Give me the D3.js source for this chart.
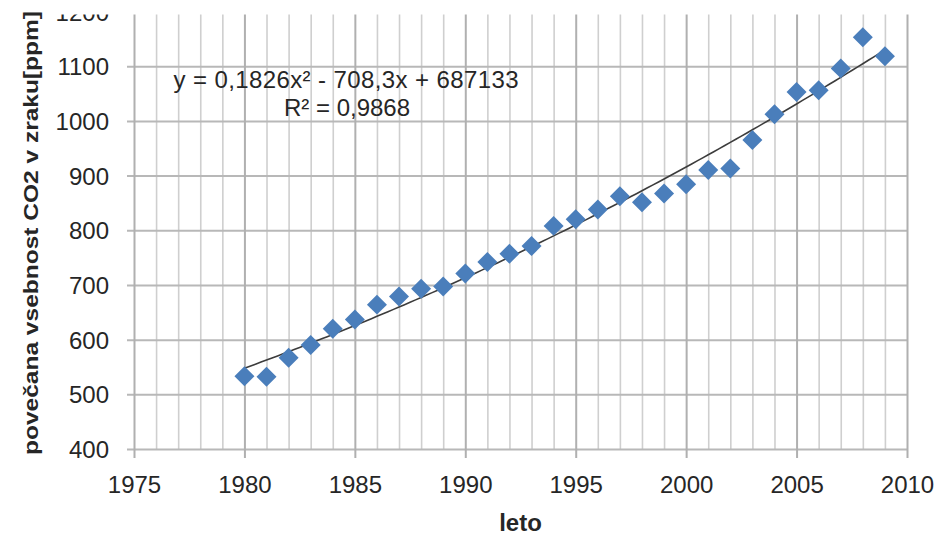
<!DOCTYPE html>
<html>
<head>
<meta charset="utf-8">
<script src="https://cdn.jsdelivr.net/npm/d3@7"></script>
<style>
  html, body { margin: 0; padding: 0; background: #fff; }
  svg { display: block; }
  text { font-family: "Liberation Sans", Arial, sans-serif; fill: #262626; }
</style>
</head>
<body>
<svg id="chart" width="941" height="536"></svg>
<script>
// ---- data ----
const years = [1980,1981,1982,1983,1984,1985,1986,1987,1988,1989,1990,1991,1992,1993,1994,1995,1996,1997,1998,1999,2000,2001,2002,2003,2004,2005,2006,2007,2008,2009];
const co2 = [533,532,567,590,620,637,664,679,693,697,721,742,757,771,808,820,838,862,851,867,884,910,913,965,1012,1053,1056,1096,1153,1118];
const xTickValues = [1975,1980,1985,1990,1995,2000,2005,2010];
const yTickValues = [400,500,600,700,800,900,1000,1100,1200];
const xTitle = "leto";
const yTitle = "povečana vsebnost CO2 v zraku[ppm]";
const eqText = "y = 0,1826x² - 708,3x + 687133";
const r2Text = "R² = 0,9868";

// ---- layout ----
const svg = d3.select("#chart");
const x = d3.scaleLinear().domain([1975, 2010]).range([134, 907]);
const y = d3.scaleLinear().domain([400, 1200]).range([449, 11.5]);

// minor vertical gridlines (every year)
const minorYears = d3.range(1975, 2011);
svg.append("g")
  .attr("transform", `translate(0,${y(400)})`)
  .call(d3.axisBottom(x).tickValues(minorYears.filter(v => v % 5 !== 0)).tickFormat("").tickSize(-(y(400) - y(1200))).tickSizeOuter(0))
  .call(g => g.select(".domain").remove())
  .call(g => g.selectAll("line").attr("stroke", "#cfcfcf").attr("stroke-width", 1.6));

// horizontal gridlines
svg.append("g")
  .attr("transform", `translate(${x(1975)},0)`)
  .call(d3.axisLeft(y).tickValues(yTickValues).tickSize(-(x(2010) - x(1975))).tickSizeOuter(0).tickPadding(0).tickFormat(""))
  .call(g => g.select(".domain").remove())
  .call(g => g.selectAll("line").attr("x1", -7).attr("stroke", "#b8b8b8").attr("stroke-width", 2));

// major vertical gridlines (every 5 years) with ticks below
svg.append("g")
  .attr("transform", `translate(0,${y(400)})`)
  .call(d3.axisBottom(x).tickValues(xTickValues).tickFormat("").tickSize(-(y(400) - y(1200))).tickSizeOuter(0))
  .call(g => g.select(".domain").remove())
  .call(g => g.selectAll("line").attr("y2", 9).attr("y1", -(y(400) - y(1200))).attr("stroke", "#b0b0b0").attr("stroke-width", 2));

// x tick labels
svg.append("g")
  .attr("transform", `translate(0,${y(400)})`)
  .call(d3.axisBottom(x).tickValues(xTickValues).tickFormat(d3.format("d")).tickSize(0).tickPadding(0))
  .call(g => g.select(".domain").remove())
  .call(g => g.selectAll("text").attr("y", 0).attr("dy", "44").style("font-size", "24px").attr("fill", "#262626"));

// y tick labels
svg.append("g")
  .attr("transform", `translate(${x(1975)},0)`)
  .call(d3.axisLeft(y).tickValues(yTickValues).tickFormat(d3.format("d")).tickSize(0).tickPadding(0))
  .call(g => g.select(".domain").remove())
  .call(g => g.selectAll("text").attr("x", -25).attr("dy", "0.36em").style("font-size", "24px").attr("fill", "#262626"));

// ---- quadratic least-squares trend line ----
function quadFit(xs, ys) {
  const x0 = d3.mean(xs);
  let S = [0,0,0,0,0], T = [0,0,0];
  xs.forEach((xv, i) => {
    const t = xv - x0;
    for (let k = 0; k < 5; k++) S[k] += Math.pow(t, k);
    for (let k = 0; k < 3; k++) T[k] += ys[i] * Math.pow(t, k);
  });
  const A = [[S[0],S[1],S[2],T[0]],[S[1],S[2],S[3],T[1]],[S[2],S[3],S[4],T[2]]];
  for (let i = 0; i < 3; i++) {
    for (let j = i + 1; j < 3; j++) {
      const f = A[j][i] / A[i][i];
      for (let k = i; k < 4; k++) A[j][k] -= f * A[i][k];
    }
  }
  const c = [0,0,0];
  for (let i = 2; i >= 0; i--) {
    let s = A[i][3];
    for (let k = i + 1; k < 3; k++) s -= A[i][k] * c[k];
    c[i] = s / A[i][i];
  }
  return xv => c[0] + c[1] * (xv - x0) + c[2] * (xv - x0) * (xv - x0);
}
const fit = quadFit(years, co2);
const trendXs = d3.range(years[0], years[years.length - 1] + 0.001, 0.25);
svg.append("path")
  .datum(trendXs)
  .attr("fill", "none")
  .attr("stroke", "#3c3c3c")
  .attr("stroke-width", 1.6)
  .attr("d", d3.line().x(d => x(d)).y(d => y(fit(d))));

// ---- markers ----
svg.append("g")
  .selectAll("path")
  .data(years.map((yr, i) => [yr, co2[i]]))
  .join("path")
  .attr("d", d3.symbol(d3.symbolSquare, 200))
  .attr("transform", d => `translate(${x(d[0])},${y(d[1])}) rotate(45)`)
  .attr("fill", "#4a7ebb");

// ---- equation labels ----
svg.append("text").attr("x", 346).attr("y", 88).attr("text-anchor", "middle")
  .attr("textLength", 345).attr("lengthAdjust", "spacing")
  .style("font-size", "24px").text(eqText);
svg.append("text").attr("x", 347).attr("y", 116).attr("text-anchor", "middle")
  .style("font-size", "24px").text(r2Text);

// ---- axis titles ----
svg.append("text").attr("x", x(1992.5)).attr("y", 531).attr("text-anchor", "middle")
  .style("font-size", "24px").style("font-weight", "bold").text(xTitle);

// top edge of the picture is cut off in the reference (plot/tick-label area only)
svg.append("rect").attr("x", 52).attr("y", 0).attr("width", 889).attr("height", 14.5).attr("fill", "#fff");

svg.append("text")
  .attr("transform", `translate(38,233) rotate(-90)`)
  .attr("text-anchor", "middle")
  .attr("textLength", 444).attr("lengthAdjust", "spacingAndGlyphs")
  .style("font-size", "21px").style("font-weight", "bold").text(yTitle);
</script>
</body>
</html>
